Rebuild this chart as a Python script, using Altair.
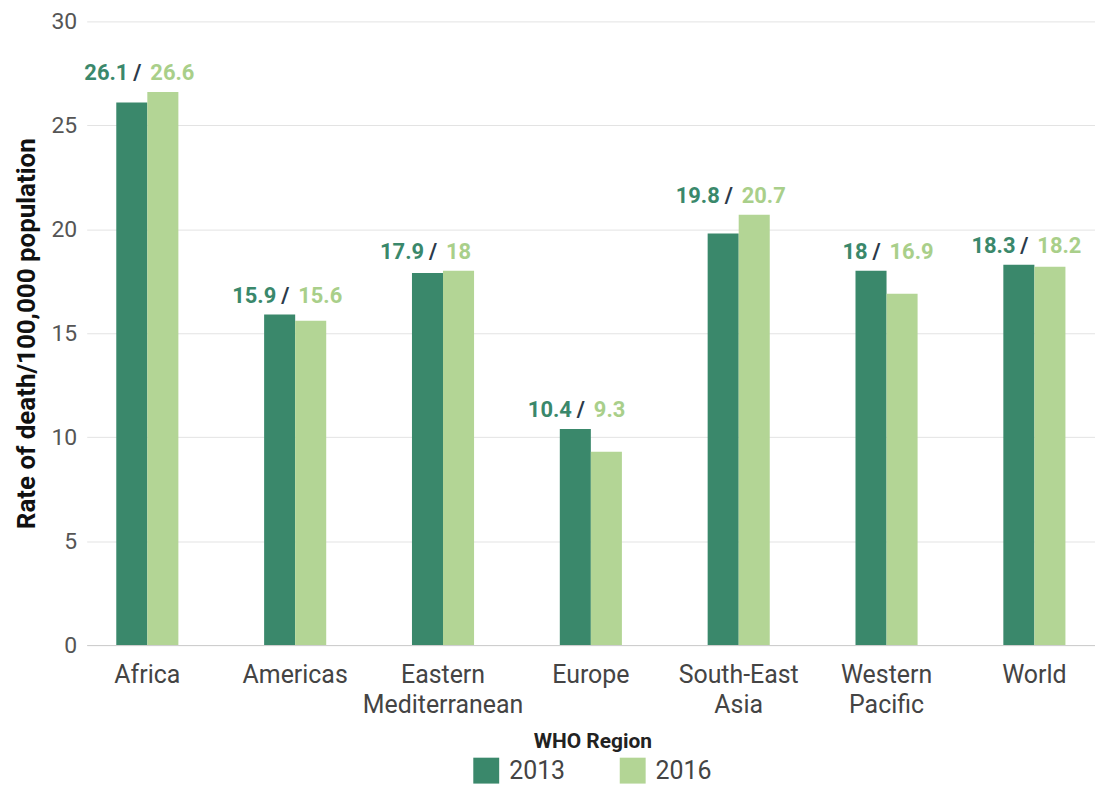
import altair as alt
import pandas as pd

regions = ["Africa", "Americas", "Eastern Mediterranean", "Europe", "South-East Asia", "Western Pacific", "World"]
region_labels = {
    "Africa": "Africa",
    "Americas": "Americas",
    "Eastern Mediterranean": "Eastern|Mediterranean",
    "Europe": "Europe",
    "South-East Asia": "South-East|Asia",
    "Western Pacific": "Western|Pacific",
    "World": "World",
}
values_2013 = [26.1, 15.9, 17.9, 10.4, 19.8, 18.0, 18.3]
values_2016 = [26.6, 15.6, 18.0, 9.3, 20.7, 16.9, 18.2]
text_2013 = ["26.1", "15.9", "17.9", "10.4", "19.8", "18", "18.3"]
text_2016 = ["26.6", "15.6", "18", "9.3", "20.7", "16.9", "18.2"]
years = ["2013", "2016"]
colors = ["#3a886b", "#b3d595"]
y_ticks = [0, 5, 10, 15, 20, 25, 30]

long_rows = []
for r, a, b in zip(regions, values_2013, values_2016):
    long_rows.append({"region": r, "year": "2013", "rate": a})
    long_rows.append({"region": r, "year": "2016", "rate": b})
bars_df = pd.DataFrame(long_rows)

lab_df = pd.DataFrame({
    "region": regions,
    "rate": [max(a, b) for a, b in zip(values_2013, values_2016)],
    "t13": text_2013,
    "t16": text_2016,
    "slash": ["/"] * len(regions),
})

label_expr = "split(" + "{" + ",".join(f"'{k}':'{v}'" for k, v in region_labels.items()) + "}[datum.value], '|')"

FONT = "Roboto"

x_axis = alt.Axis(
    title=None,
    labelExpr=label_expr,
    labelAngle=0,
    labelFontSize=25,
    labelColor="#444444",
    labelFont=FONT,
    labelPadding=18,
    ticks=False,
    domainColor="#cccccc",
    labelLineHeight=30,
)
x_scale = alt.Scale(paddingInner=0.58, paddingOuter=0.2)
y_axis = alt.Axis(
    title="Rate of death/100,000 population",
    titleFontSize=26,
    titleFontWeight="bold",
    titleColor="#111111",
    titleFont=FONT,
    titlePadding=12,
    labelFontSize=23,
    labelColor="#555555",
    labelFont=FONT,
    labelPadding=10,
    values=y_ticks,
    labelOverlap=False,
    ticks=False,
    domain=False,
    gridColor="#e3e3e3",
)
y_scale = alt.Scale(domain=[0, 30])

bars = alt.Chart(bars_df).mark_bar().encode(
    x=alt.X("region:N", sort=regions, scale=x_scale, axis=x_axis),
    xOffset=alt.XOffset("year:N", sort=years),
    y=alt.Y("rate:Q", scale=y_scale, axis=y_axis),
    color=alt.Color(
        "year:N",
        scale=alt.Scale(domain=years, range=colors),
        legend=alt.Legend(
            title="WHO Region",
            orient="none",
            legendX=388,
            legendY=712,
            direction="horizontal",
            titleOrient="top",
            titleAnchor="middle",
            titleFontSize=21,
            titleFontWeight="bold",
            titleColor="#222222",
            titleFont=FONT,
            titlePadding=6,
            labelFontSize=25,
            labelColor="#444444",
            labelFont=FONT,
            symbolType="square",
            symbolSize=676,
            symbolOpacity=1,
            symbolStrokeWidth=0,
            columnPadding=54,
            labelOffset=10,
        ),
    ),
)

base_t = alt.Chart(lab_df).encode(
    x=alt.X("region:N", sort=regions, scale=x_scale, axis=x_axis),
    y=alt.Y("rate:Q", scale=y_scale, axis=y_axis),
)
tstyle = dict(baseline="alphabetic", dy=-12, fontSize=22, fontWeight="bold", font=FONT)
t1 = base_t.mark_text(align="right", dx=-19, color="#3a886b", **tstyle).encode(text="t13:N")
ts = base_t.mark_text(align="center", dx=-10, color="#2b3a4a", **tstyle).encode(text="slash:N")
t2 = base_t.mark_text(align="left", dx=3, color="#a9cf8a", **tstyle).encode(text="t16:N")

chart = (
    alt.layer(bars, t1, ts, t2)
    .properties(width=1012, height=626, padding={"left": 5, "top": 1, "right": 0, "bottom": 5})
    .configure_view(stroke=None)
)

chart.save("out.html", embed_options={"renderer": "svg", "actions": False})
